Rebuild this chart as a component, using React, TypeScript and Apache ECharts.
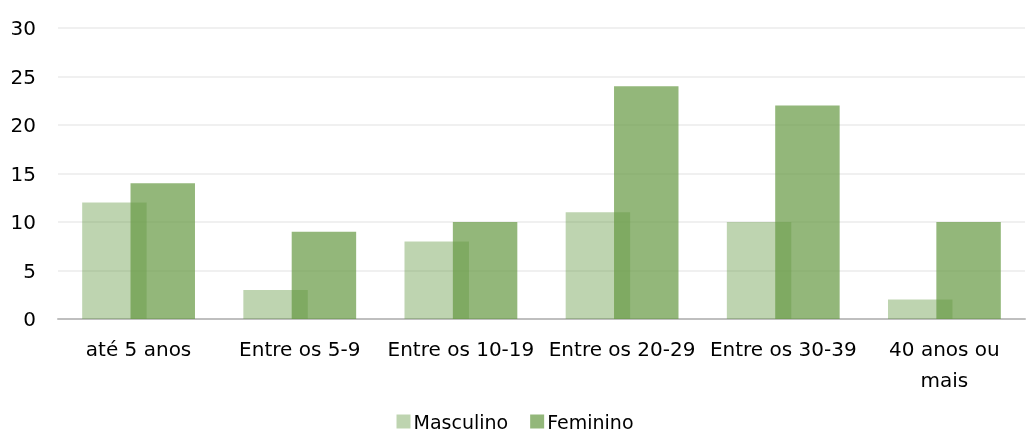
import React, { useEffect, useRef } from "react";
import * as echarts from "echarts";

const categories = ["até 5 anos", "Entre os 5-9", "Entre os 10-19", "Entre os 20-29", "Entre os 30-39", "40 anos ou mais"];
const masculino = [12, 3, 8, 11, 10, 2];
const feminino = [14, 9, 10, 24, 22, 10];

export default function App() {
  const ref = useRef<HTMLDivElement>(null);
  useEffect(() => {
    const chart = echarts.init(ref.current!, null, { renderer: "svg" });
    const font = "DejaVu Sans";
    chart.setOption({
      animation: false,
      grid: { left: 58, right: 5, top: 28, bottom: 118 },
      legend: {
        top: 410,
        left: "center",
        padding: [2, 5, 2, 5],
        itemWidth: 14,
        itemHeight: 14,
        itemGap: 22,
        icon: "rect",
        textStyle: { fontFamily: font, fontSize: 19, color: "#000", padding: [0, 0, 0, -2] },
        data: ["Masculino", "Feminino"],
      },
      xAxis: {
        type: "category",
        data: categories,
        axisTick: { show: false },
        axisLine: { lineStyle: { color: "#bfbfbf", width: 2 } },
        axisLabel: {
          fontFamily: font,
          fontSize: 20,
          color: "#000",
          margin: 14,
          lineHeight: 31,
          interval: 0,
          formatter: (v: string) => (v === "40 anos ou mais" ? "40 anos ou\nmais" : v),
        },
      },
      yAxis: {
        type: "value",
        min: 0,
        max: 30,
        interval: 5,
        axisLabel: { fontFamily: font, fontSize: 20, color: "#000", margin: 22 },
        splitLine: { lineStyle: { color: "#f0f0f0", width: 2 } },
      },
      series: [
        {
          name: "Masculino",
          type: "bar",
          data: masculino,
          barWidth: "40%",
          barGap: "-25%",
          itemStyle: { color: "rgba(101,152,66,0.42)" },
        },
        {
          name: "Feminino",
          type: "bar",
          data: feminino,
          barWidth: "40%",
          barGap: "-25%",
          itemStyle: { color: "rgba(101,152,66,0.7)" },
        },
      ],
    });
    return () => chart.dispose();
  }, []);
  return <div ref={ref} style={{ position: "fixed", left: 0, top: 0, width: 1030, height: 437 }} />;
}
